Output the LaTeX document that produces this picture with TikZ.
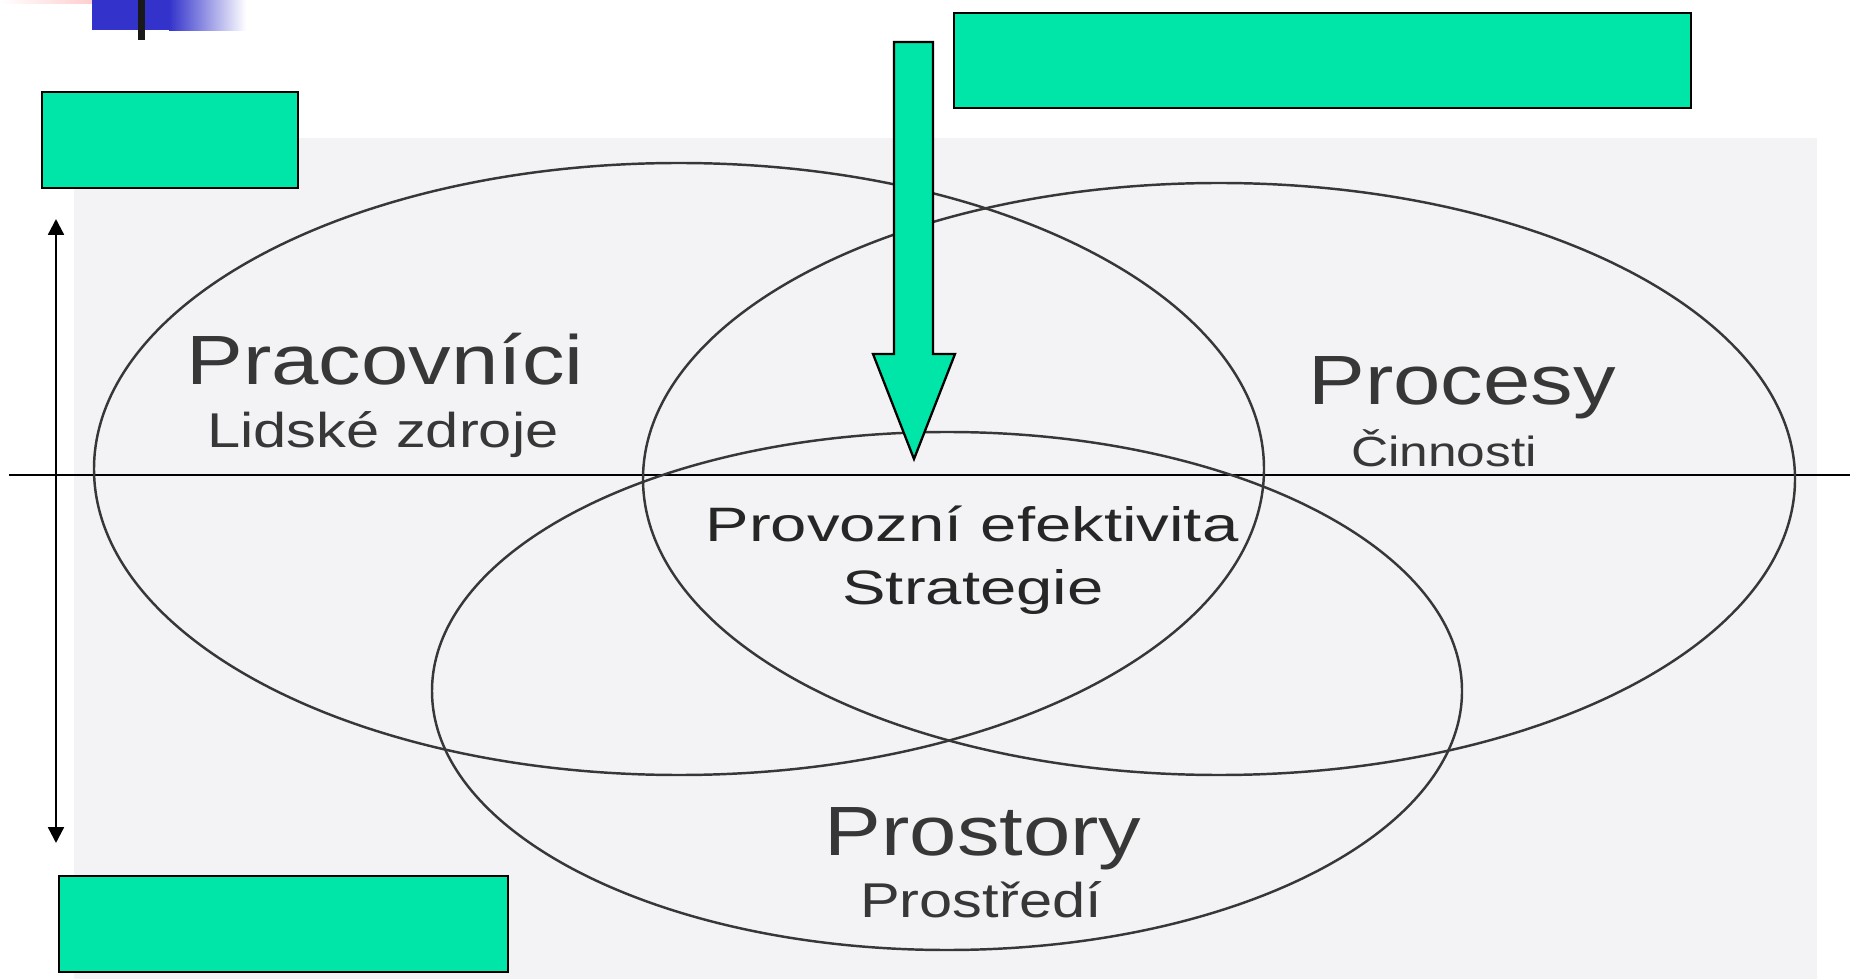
\documentclass[tikz,border=0pt]{standalone}
\usepackage{fontspec}
\usetikzlibrary{arrows.meta}
\newfontfamily\widefont[FakeStretch=1.22]{Liberation Sans}
\newfontfamily\midfont[FakeStretch=1.35]{Liberation Sans}
\definecolor{mint}{RGB}{0,229,168}
\definecolor{inkgray}{RGB}{55,55,55}
\definecolor{linegray}{RGB}{55,55,55}
\definecolor{paper}{RGB}{243,243,245}
\definecolor{slideblue}{RGB}{51,51,204}
\definecolor{slidepink}{RGB}{255,190,190}
\tikzset{
  greenbox/.style={draw=black, line width=1.3pt, fill=mint},
  venn/.style={draw=linegray, line width=1.4pt},
  bigtext/.style={anchor=base, text=inkgray, font=\widefont\fontsize{39.7}{42}\selectfont, inner sep=0pt},
  subtext/.style={anchor=base, text=inkgray, font=\widefont\fontsize{27.8}{30}\selectfont, inner sep=0pt},
  midtext/.style={anchor=base, text=black!85, font=\midfont\fontsize{27.5}{30}\selectfont, inner sep=0pt}
}
\begin{document}
\begin{tikzpicture}[x=0.02cm, y=-0.02cm]
\useasboundingbox (0,0) rectangle (1856,979);
\fill[white] (0,0) rectangle (1856,979);
% scanned paper background
\fill[paper] (74,138) rectangle (1817,979);
% slide decoration top-left
\shade[left color=white, right color=slidepink] (0,0) rectangle (123,4);
\fill[slideblue] (92,0) rectangle (170,30);
\shade[left color=slideblue, right color=white] (169,0) rectangle (246,31);
\fill[black!90] (138,0) rectangle (145,40);
% horizontal axis
\coordinate (hl) at (9,475);
\coordinate (hr) at (1850,475);
\draw[black, line width=1pt] (hl) -- (hr);
% vertical double arrow
\coordinate (vt) at (56,219);
\coordinate (vb) at (56,843);
\draw[black, line width=1.3pt, {Triangle[length=9pt,width=9pt]}-{Triangle[length=9pt,width=9pt]}] (vt) -- (vb);
% ellipses
\draw[venn] (679,469) ellipse [x radius=585, y radius=306];
\draw[venn] (1219,479) ellipse [x radius=576, y radius=296];
\draw[venn] (947,691) ellipse [x radius=515, y radius=259];
% texts
\node[bigtext] (prac) at (385,385) {Pracovníci};
\node[subtext] (lidske) at (383,448) {Lidské zdroje};
\node[bigtext] (proc) at (1462,405) {Procesy};
\node[subtext, font=\widefont\fontsize{24}{26}\selectfont] (cinn) at (1444,467) {Činnosti};
\node[midtext] (prov) at (972,541) {Provozní efektivita};
\node[midtext] (strat) at (973,604) {Strategie};
\node[bigtext] (prost) at (983,855) {Prostory};
\node[subtext] (prostr) at (981,917) {Prostředí};
% big green arrow
\draw[greenbox, line join=miter] (894,42) -- (933,42) -- (933,354) -- (955,354) -- (914,459) -- (873,354) -- (894,354) -- cycle;
% green boxes
\node[greenbox, minimum width=256*0.02cm, minimum height=96*0.02cm, inner sep=0pt, anchor=north west] (boxtl) at (41,91) {};
\node[greenbox, minimum width=737*0.02cm, minimum height=95*0.02cm, inner sep=0pt, anchor=north west] (boxtr) at (953,12) {};
\node[greenbox, minimum width=449*0.02cm, minimum height=96*0.02cm, inner sep=0pt, anchor=north west] (boxbl) at (58,875) {};
\end{tikzpicture}
\end{document}
